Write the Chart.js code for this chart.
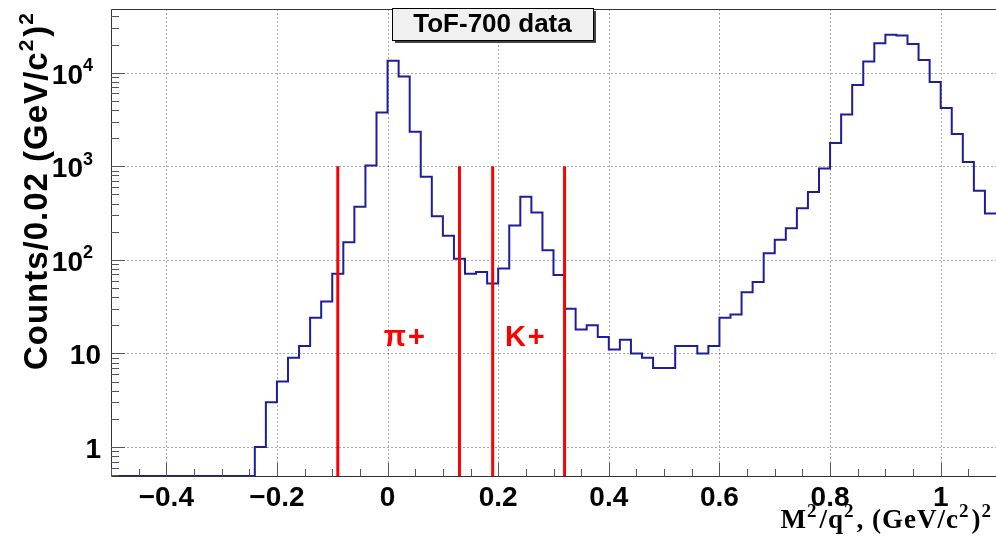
<!DOCTYPE html>
<html>
<head>
<meta charset="utf-8">
<script src="https://cdn.jsdelivr.net/npm/chart.js@4.4.0/dist/chart.umd.min.js"></script>
<style>
  html, body { margin: 0; padding: 0; background: #fff; overflow: hidden; }
  #wrap { width: 996px; height: 547px; }
</style>
</head>
<body>
<div id="wrap"><canvas id="chartMass" width="996" height="547"></canvas></div>
<script>
// histogram binning (M^2/q^2, bins of 0.02)
const binStart = -0.5;
const binWidth = 0.02;

// counts per bin
const counts = [
  0, 0, 0, 0, 0, 0, 0, 0, 0, 0,
  0, 0, 0, 1, 3, 5, 9, 12, 24, 36,
  71, 154, 369, 1020, 3760, 13400, 9120, 2340, 772, 293,
  181, 103, 71, 74, 56, 81, 233, 472, 320, 127,
  69, 30, 18, 20, 15, 11, 14, 10, 9, 7,
  7, 12, 12, 10, 12, 24, 26, 45, 58, 118,
  164, 218, 357, 530, 948, 1770, 3580, 7380, 13200, 20600,
  25500, 25000, 20300, 13700, 7960, 4190, 2210, 1110, 547, 313
];

const xMin = -0.5, xMax = 1.1;
const yMin = 0.49, yMax = 48000;
const xTicks = [-0.4, -0.2, 0, 0.2, 0.4, 0.6, 0.8, 1];
const yTicks = [1, 10, 100, 1000, 10000];
// [base, exponent] like ROOT's 10^{n}
const yTickLabels = [["1", ""], ["10", ""], ["10", "2"], ["10", "3"], ["10", "4"]];

// cut lines
const cutPositions = [-0.09, 0.13, 0.19, 0.32];
const cutTop = 1000;

// particle labels
const particleNames = ["π+", "K+"];
const particleX = [0.032, 0.25];
const particleY = 14.6;

const boxTitle = "ToF-700 data";

// empty bins sit on the bottom of the log axis, like ROOT draws them
const histPoints = counts.map((c, i) => ({ x: binStart + i * binWidth, y: c > 0 ? c : yMin }));
histPoints.push({ x: binStart + counts.length * binWidth, y: counts[counts.length - 1] });

const SANS = '"Liberation Sans", Arial, Helvetica, sans-serif';
const SERIF = '"Liberation Serif", "Times New Roman", serif';

function drawRich(ctx, parts, x, y, size, family, align, opts) {
  const o = Object.assign({ supScale: 0.65, supRise: 0.42, supGap: 0, spacing: 0 }, opts || {});
  const fontFor = (sup) => `bold ${sup ? Math.round(size * o.supScale) : size}px ${family}`;
  ctx.letterSpacing = o.spacing + "px";
  let total = 0;
  parts.forEach(([t, sup]) => {
    ctx.font = fontFor(sup);
    total += ctx.measureText(t).width + (sup ? o.supGap : 0);
  });
  let cx = align === "right" ? x - total : align === "center" ? x - total / 2 : x;
  ctx.textAlign = "left";
  ctx.textBaseline = "alphabetic";
  parts.forEach(([t, sup]) => {
    ctx.font = fontFor(sup);
    ctx.fillText(t, cx, sup ? y - size * o.supRise : y);
    cx += ctx.measureText(t).width + (sup ? o.supGap : 0);
  });
  ctx.letterSpacing = "0px";
}

// ROOT-like frame: dotted grid, inside ticks, titles, labels
const rootFrame = {
  id: "rootFrame",
  beforeDatasetsDraw(chart) {
    const { ctx, chartArea: a, scales: { x, y } } = chart;
    ctx.save();
    ctx.strokeStyle = "rgba(0,0,0,0.35)";
    ctx.lineWidth = 1;
    ctx.setLineDash([2, 2]);
    xTicks.forEach((v) => {
      const px = Math.round(x.getPixelForValue(v)) + 0.5;
      ctx.beginPath(); ctx.moveTo(px, a.top); ctx.lineTo(px, a.bottom); ctx.stroke();
    });
    yTicks.forEach((v) => {
      const py = Math.round(y.getPixelForValue(v)) + 0.5;
      ctx.beginPath(); ctx.moveTo(a.left, py); ctx.lineTo(a.right, py); ctx.stroke();
    });
    ctx.restore();
  },
  afterDatasetsDraw(chart) {
    const { ctx, chartArea: a, scales: { x, y } } = chart;
    ctx.save();
    // frame
    ctx.strokeStyle = "#333";
    ctx.lineWidth = 1;
    ctx.beginPath();
    ctx.moveTo(a.right, a.top + 0.5); ctx.lineTo(a.left + 0.5, a.top + 0.5);
    ctx.lineTo(a.left + 0.5, a.bottom + 0.5); ctx.lineTo(a.right, a.bottom + 0.5);
    ctx.stroke();

    // x ticks, minor every 0.05
    ctx.strokeStyle = "#555";
    for (let k = 0; ; k++) {
      const v = x.min + k * 0.05;
      if (v > x.max + 1e-9) break;
      const major = xTicks.some((t) => Math.abs(t - v) < 1e-6);
      const px = Math.round(x.getPixelForValue(v)) + 0.5;
      ctx.beginPath(); ctx.moveTo(px, a.bottom); ctx.lineTo(px, a.bottom - (major ? 13 : 7)); ctx.stroke();
    }
    // y ticks, log minor
    for (let d = -1; d <= 5; d++) {
      for (let m = 1; m <= 9; m++) {
        const v = m * Math.pow(10, d);
        if (v < y.min || v > y.max) continue;
        const py = Math.round(y.getPixelForValue(v)) + 0.5;
        ctx.beginPath(); ctx.moveTo(a.left, py); ctx.lineTo(a.left + (m === 1 ? 14 : 8), py); ctx.stroke();
      }
    }

    // y tick labels with real superscripts
    ctx.fillStyle = "#000";
    yTicks.forEach((v, i) => {
      const [base, exp] = yTickLabels[i];
      const parts = exp ? [[base, 0], [exp, 1]] : [[base, 0]];
      drawRich(ctx, parts, a.left - (exp ? 18 : 10), y.getPixelForValue(v) + 11, 28, SANS, "right",
        { supScale: 0.66, supRise: 0.45 });
    });

    // particle labels
    ctx.fillStyle = "#ff0000";
    ctx.font = "bold 29px " + SANS;
    ctx.letterSpacing = "2px";
    ctx.textAlign = "center";
    ctx.textBaseline = "middle";
    particleNames.forEach((n, i) => {
      ctx.fillText(n, x.getPixelForValue(particleX[i]), y.getPixelForValue(particleY));
    });
    ctx.letterSpacing = "0px";

    // axis titles
    ctx.fillStyle = "#000";
    ctx.save();
    ctx.translate(47, a.top + 1);
    ctx.rotate(-Math.PI / 2);
    drawRich(ctx, [["Counts/0.02 (GeV/c", 0], ["2", 1], [")", 0], ["2", 1]], 0, 0, 33, SANS, "right",
      { spacing: 1, supGap: 2 });
    ctx.restore();
    drawRich(ctx, [["M", 0], ["2", 1], ["/q", 0], ["2", 1], [", (GeV/c", 0], ["2", 1], [")", 0], ["2", 1]],
      994, 528, 27, SERIF, "right", { supScale: 0.7, supRise: 0.4, supGap: 2, spacing: 1 });

    // title box
    const bx = 392, by = 8, bw = 201, bh = 32;
    ctx.fillStyle = "#444";
    ctx.fillRect(bx + 3, by + 3, bw, bh);
    ctx.fillStyle = "#f0f0f0";
    ctx.fillRect(bx, by, bw, bh);
    ctx.strokeStyle = "#000";
    ctx.strokeRect(bx + 0.5, by + 0.5, bw, bh);
    ctx.fillStyle = "#000";
    ctx.font = "bold 26px " + SANS;
    ctx.textAlign = "center";
    ctx.textBaseline = "middle";
    ctx.fillText(boxTitle, bx + bw / 2, by + bh / 2 + 1);
    ctx.restore();
  }
};

const cutDatasets = cutPositions.map((c) => ({
  data: [{ x: c, y: yMin }, { x: c, y: cutTop }],
  borderColor: "#ff0000",
  borderWidth: 3,
  pointRadius: 0,
}));

new Chart(document.getElementById("chartMass").getContext("2d"), {
  type: "line",
  data: {
    datasets: [
      ...cutDatasets,
      {
        data: histPoints,
        stepped: true,
        borderColor: "#1e1e9c",
        borderWidth: 2,
        pointRadius: 0,
        fill: false,
      },
    ],
  },
  options: {
    responsive: false,
    animation: false,
    layout: { padding: { top: 9, left: 0, right: 0, bottom: 0 } },
    plugins: { legend: { display: false }, tooltip: { enabled: false } },
    scales: {
      x: {
        type: "linear",
        min: xMin,
        max: xMax,
        grid: { display: false },
        border: { display: false },
        afterBuildTicks: (s) => { s.ticks = xTicks.map((v) => ({ value: v })); },
        afterFit: (s) => { s.height = 71; },
        ticks: {
          autoSkip: false,
          maxRotation: 0,
          padding: -3,
          color: "#000",
          font: { family: SANS, size: 28, weight: "bold" },
          callback: (v) => (v < 0 ? "−" + Math.abs(v) : String(v)),
        },
      },
      y: {
        type: "logarithmic",
        min: yMin,
        max: yMax,
        grid: { display: false },
        border: { display: false },
        afterBuildTicks: (s) => { s.ticks = yTicks.map((v) => ({ value: v })); },
        afterFit: (s) => { s.width = 111; },
        ticks: { display: false },
      },
    },
  },
  plugins: [rootFrame],
});
</script>
</body>
</html>
